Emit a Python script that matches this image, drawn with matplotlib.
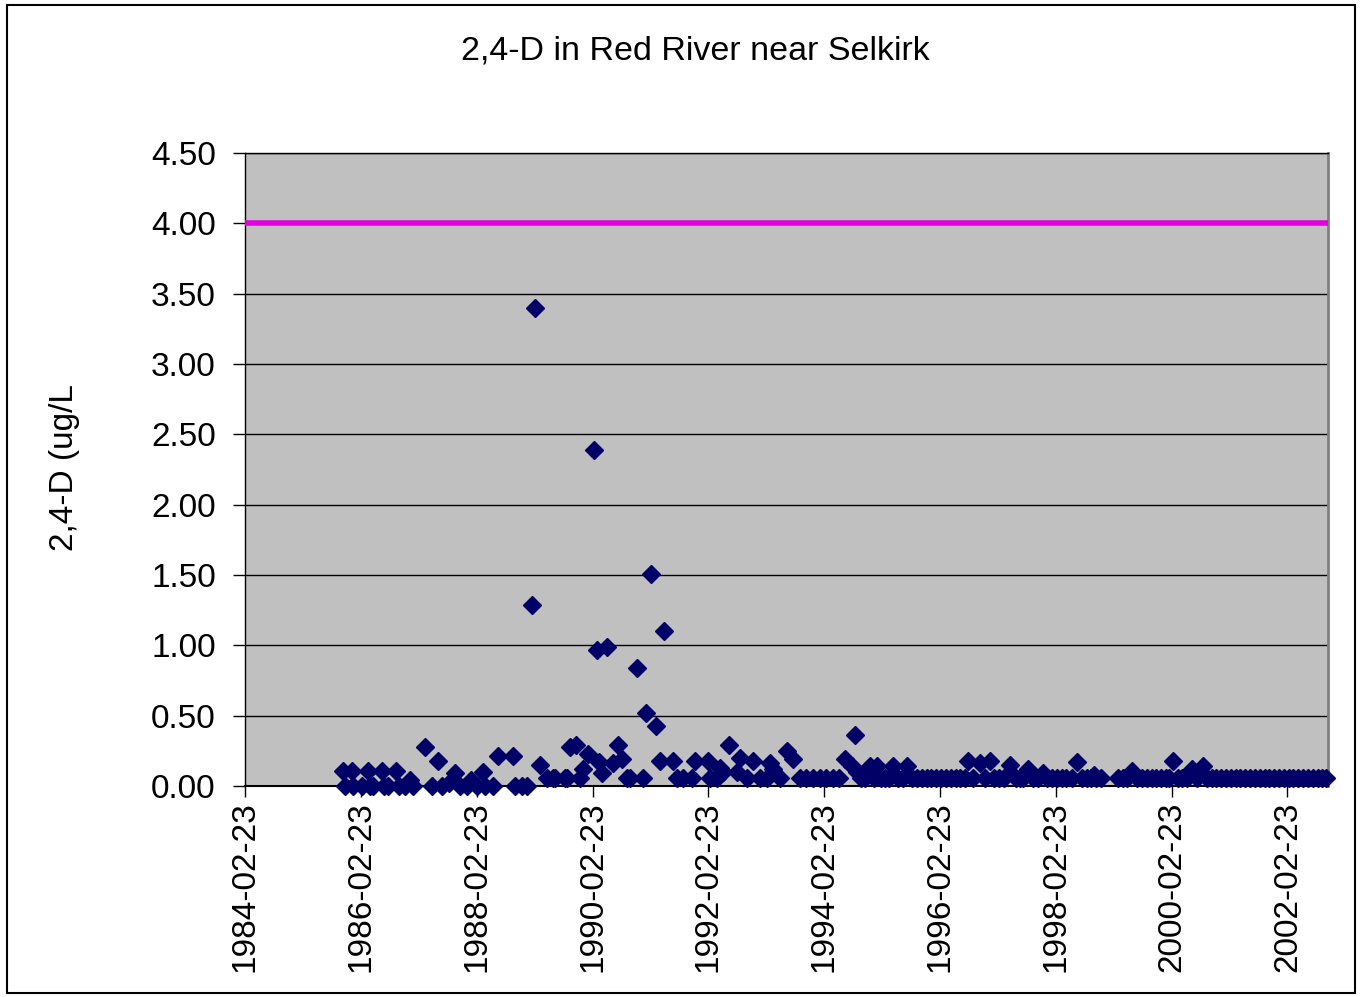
import datetime as dt
import matplotlib
matplotlib.use("Agg")
import matplotlib.pyplot as plt
from matplotlib.patches import Rectangle

plt.rcParams['font.family'] = ['Liberation Sans', 'DejaVu Sans']

# sample dates as decimal years, values in ug/L
# samples sitting on the ~0.06 detection level
low_years = [1989.36, 1989.46, 1989.50, 1989.67, 1989.71, 1989.93, 1990.74, 1990.80,
             1991.02, 1991.61, 1991.70, 1991.87, 1992.18, 1992.30, 1992.82, 1993.04,
             1993.16, 1993.39, 1993.73, 1993.83, 1993.96, 1994.08, 1994.18, 1994.30,
             1994.40, 1994.78, 1994.85, 1995.00, 1995.12, 1995.20, 1995.27, 1995.42,
             1995.50, 1995.66, 1995.75, 1995.83, 1995.92, 1996.00, 1996.08, 1996.17,
             1996.25, 1996.33, 1996.42, 1996.50, 1996.58, 1996.72, 1996.92, 1997.08,
             1997.17, 1997.25, 1997.45, 1997.52, 1997.58, 1997.75, 1997.83, 1998.00,
             1998.08, 1998.17, 1998.25, 1998.33, 1998.42, 1998.60, 1998.68, 1998.76,
             1998.84, 1998.92, 1999.22, 1999.30, 1999.38, 1999.55, 1999.63, 1999.72,
             1999.80, 1999.88, 1999.96, 2000.05, 2000.10, 2000.25, 2000.33, 2000.42,
             2000.58, 2000.76, 2000.84, 2000.92, 2001.00, 2001.08, 2001.17, 2001.25,
             2001.33, 2001.42, 2001.50, 2001.58, 2001.67, 2001.75, 2001.83, 2001.92,
             2002.00, 2002.08, 2002.17, 2002.25, 2002.33, 2002.42, 2002.50, 2002.58,
             2002.67, 2002.75, 2002.82]
low_value = 0.06

other_years = [1985.84, 1985.87, 1985.99, 1986.01, 1986.17, 1986.27, 1986.30, 1986.36,
               1986.51, 1986.55, 1986.62, 1986.75, 1986.80, 1986.91, 1987.00, 1987.05,
               1987.25, 1987.37, 1987.48, 1987.55, 1987.66, 1987.77, 1987.85, 1987.98,
               1988.05, 1988.15, 1988.26, 1988.29, 1988.43, 1988.52, 1988.77, 1988.81,
               1988.93, 1989.02, 1989.10, 1989.15, 1989.24, 1989.76, 1989.86, 1989.98,
               1990.07, 1990.17, 1990.22, 1990.26, 1990.31, 1990.40, 1990.50, 1990.59,
               1990.66, 1990.92, 1991.07, 1991.16, 1991.24, 1991.31, 1991.38, 1991.54,
               1991.92, 1992.14, 1992.35, 1992.40, 1992.50, 1992.64, 1992.70, 1992.92,
               1993.21, 1993.26, 1993.51, 1993.61, 1994.51, 1994.63, 1994.68, 1994.72,
               1994.94, 1995.06, 1995.34, 1995.58, 1996.63, 1996.84, 1997.01, 1997.36,
               1997.67, 1997.93, 1998.52, 1998.80, 1999.46, 2000.17, 2000.50, 2000.69]
other_values = [0.11, 0.00, 0.11, 0.00, 0.00, 0.11, 0.00, 0.00,
                0.11, 0.00, 0.00, 0.11, 0.00, 0.00, 0.04, 0.00,
                0.28, 0.00, 0.18, 0.00, 0.02, 0.09, 0.00, 0.00,
                0.04, 0.00, 0.10, 0.00, 0.00, 0.21, 0.21, 0.00,
                0.00, 0.00, 1.29, 3.40, 0.15, 0.28, 0.29, 0.12,
                0.23, 2.39, 0.97, 0.17, 0.09, 0.99, 0.16, 0.29,
                0.19, 0.84, 0.52, 1.51, 0.43, 0.18, 1.10, 0.18,
                0.18, 0.18, 0.13, 0.10, 0.29, 0.10, 0.20, 0.18,
                0.16, 0.12, 0.25, 0.19, 0.19, 0.14, 0.36, 0.10,
                0.14, 0.14, 0.14, 0.14, 0.18, 0.16, 0.18, 0.15,
                0.12, 0.09, 0.17, 0.08, 0.11, 0.18, 0.12, 0.14]

guideline = 4.0
tick_dates = ["1984-02-23", "1986-02-23", "1988-02-23", "1990-02-23", "1992-02-23",
              "1994-02-23", "1996-02-23", "1998-02-23", "2000-02-23", "2002-02-23"]
x_start = "1984-02-23"
x_end = "2002-11-06"


def to_date(y):
    yr = int(y)
    return dt.datetime(yr, 1, 1) + dt.timedelta(days=(y - yr) * 365.25)


years = other_years + low_years
values = other_values + [low_value] * len(low_years)
pairs = sorted(zip(years, values))
dates = [to_date(p[0]) for p in pairs]
vals = [p[1] for p in pairs]

fig = plt.figure(figsize=(13.64, 9.97), dpi=100)
ax = fig.add_axes([245 / 1364, 1 - 786 / 997, (1328 - 245) / 1364, (786 - 153) / 997])
ax.set_facecolor("#C0C0C0")

xmin = dt.datetime.strptime(x_start, "%Y-%m-%d")
xmax = dt.datetime.strptime(x_end, "%Y-%m-%d")

ax.plot([xmin, xmax], [guideline, guideline], color="#E000E0", lw=4, zorder=3,
        solid_capstyle="butt", clip_on=False)
ax.plot(dates, vals, linestyle="none", marker="D", ms=9.5, color="#000066",
        markeredgecolor="#000066", zorder=4, clip_on=False)

ax.set_xlim(xmin, xmax)
ax.set_ylim(0, 4.5)
ax.set_yticks([0, 0.5, 1, 1.5, 2, 2.5, 3, 3.5, 4, 4.5])
ax.set_yticklabels(["%.2f" % v for v in ax.get_yticks()])
ax.yaxis.grid(True, color="black", lw=1)
ax.set_axisbelow(True)

ticks = [dt.datetime.strptime(t, "%Y-%m-%d") for t in tick_dates]
ax.set_xticks(ticks)
ax.set_xticklabels(tick_dates, rotation=90, va="top", ha="center")

ax.tick_params(axis="y", length=9, width=1, pad=12, labelsize=24, direction="out")
ax.tick_params(axis="x", length=8, width=1, pad=3, labelsize=24, direction="out")

ax.spines["left"].set_color("black")
ax.spines["left"].set_linewidth(1)
ax.spines["bottom"].set_color("black")
ax.spines["bottom"].set_linewidth(1.5)
ax.spines["right"].set_color("#808080")
ax.spines["right"].set_linewidth(2)
ax.spines["top"].set_color("black")
ax.spines["top"].set_linewidth(1)

fig.text(695 / 1364, 1 - 51 / 997, "2,4-D in Red River near Selkirk",
         ha="center", va="center", fontsize=24.5)
fig.text(65 / 1364, 1 - 468 / 997, "2,4-D (ug/L", rotation=90,
         ha="center", va="center", fontsize=24)

fig.patches.append(Rectangle((7 / 1364, 1 - 993 / 997), 1348 / 1364, 988 / 997,
                             transform=fig.transFigure, fill=False,
                             edgecolor="black", lw=1.5))

fig.savefig("out.png", dpi=100)
